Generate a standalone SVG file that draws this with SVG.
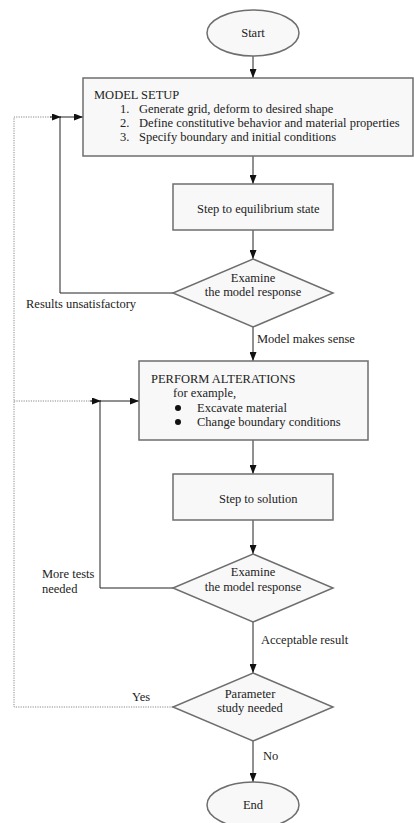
<svg xmlns="http://www.w3.org/2000/svg" width="414" height="823" viewBox="0 0 414 823">
<style>
text{font-family:"Liberation Serif","Times New Roman",serif;font-size:12.5px;fill:#222}
.box{fill:#f8f8f8;stroke:#6e6e6e;stroke-width:1.5}
.c{fill:none;stroke:#222;stroke-width:1}
.d{fill:none;stroke:#888;stroke-width:1;stroke-dasharray:1.2 1.2}
.m{text-anchor:middle}
</style>
<defs>
<marker id="ah" markerUnits="userSpaceOnUse" markerWidth="9" markerHeight="7" refX="9" refY="3.5" orient="auto">
<path d="M0,0 L9,3.5 L0,7 z" fill="#111"/>
</marker>
</defs>
<rect width="414" height="823" fill="#fff"/>
<g id="connectors">
<path class="c" d="M253,56 V78" marker-end="url(#ah)"/>
<path class="c" d="M253,156 V184" marker-end="url(#ah)"/>
<path class="c" d="M253,230 V259" marker-end="url(#ah)"/>
<path class="c" d="M173,293 H60 V117 H83" marker-end="url(#ah)"/>
<path class="d" d="M173,707 H14 V117 H55"/>
<path class="c" d="M50,117 H61" marker-end="url(#ah)"/>
<path class="c" d="M253,327 V361" marker-end="url(#ah)"/>
<path class="c" d="M253,440 V474" marker-end="url(#ah)"/>
<path class="c" d="M253,520 V554" marker-end="url(#ah)"/>
<path class="c" d="M173,588 H100 V401 H139" marker-end="url(#ah)"/>
<path class="d" d="M14,401 H94"/>
<path class="c" d="M90,401 H101" marker-end="url(#ah)"/>
<path class="c" d="M253,622 V673" marker-end="url(#ah)"/>
<path class="c" d="M253,741 V782" marker-end="url(#ah)"/>
<text x="26" y="308">Results unsatisfactory</text>
<text x="257" y="343">Model makes sense</text>
<text x="42" y="578">More tests</text>
<text x="42" y="593">needed</text>
<text x="261" y="644">Acceptable result</text>
<text x="132" y="701">Yes</text>
<text x="263" y="760">No</text>
</g>
<g id="start">
<ellipse class="box" cx="253" cy="33" rx="46" ry="23"/>
<text class="m" x="253" y="37">Start</text>
</g>
<g id="model-setup">
<rect class="box" x="83" y="78" width="330" height="78"/>
<text x="94" y="99">MODEL SETUP</text>
<text x="120" y="113">1.</text>
<text x="139" y="113">Generate grid, deform to desired shape</text>
<text x="120" y="127">2.</text>
<text x="139" y="127">Define constitutive behavior and material properties</text>
<text x="120" y="141">3.</text>
<text x="139" y="141">Specify boundary and initial conditions</text>
</g>
<g id="equilibrium">
<rect class="box" x="173" y="184" width="160" height="46"/>
<text x="197" y="213">Step to equilibrium state</text>
</g>
<g id="examine1">
<polygon class="box" points="253,259 333,293 253,327 173,293"/>
<text class="m" x="253" y="282">Examine</text>
<text class="m" x="253" y="296">the model response</text>
</g>
<g id="alterations">
<rect class="box" x="139" y="361" width="229" height="79"/>
<text x="151" y="383">PERFORM ALTERATIONS</text>
<text x="173" y="397">for example,</text>
<circle cx="178" cy="408" r="3" fill="#111"/>
<text x="197" y="412">Excavate material</text>
<circle cx="178" cy="422" r="3" fill="#111"/>
<text x="197" y="426">Change boundary conditions</text>
</g>
<g id="solution">
<rect class="box" x="173" y="474" width="160" height="46"/>
<text x="219" y="503">Step to solution</text>
</g>
<g id="examine2">
<polygon class="box" points="253,554 333,588 253,622 173,588"/>
<text class="m" x="253" y="576">Examine</text>
<text class="m" x="253" y="591">the model response</text>
</g>
<g id="parameter">
<polygon class="box" points="253,673 333,707 253,741 173,707"/>
<text class="m" x="250" y="698">Parameter</text>
<text class="m" x="250" y="712">study needed</text>
</g>
<g id="end">
<ellipse class="box" cx="253" cy="805" rx="46" ry="23"/>
<text class="m" x="253" y="809">End</text>
</g>
</svg>
